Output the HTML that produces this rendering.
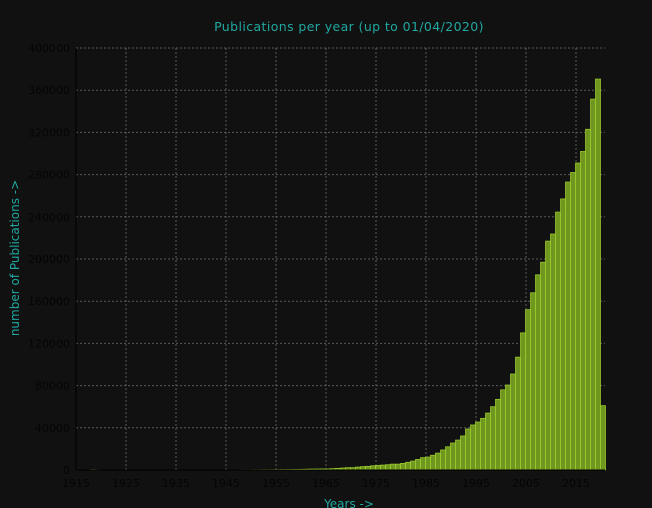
<!DOCTYPE html>
<html><head><meta charset="utf-8"><style>
html,body{margin:0;padding:0;background:#111;}
svg{display:block;font-family:"DejaVu Sans","Liberation Sans",sans-serif;}
</style></head><body>
<svg id="chart" width="652" height="508">
<rect width="652" height="508" fill="#111"/>
<text x="349" y="31" text-anchor="middle" fill="#20a8a0" font-size="12.5" letter-spacing="0.4">Publications per year (up to 01/04/2020)</text>
<text transform="translate(19,258) rotate(-90)" text-anchor="middle" fill="#20a8a0" font-size="12">number of Publications -&gt;</text>
<text x="349" y="508" text-anchor="middle" fill="#20a8a0" font-size="12">Years -&gt;</text>
<g id="grid"></g><g id="bars"></g><g id="axes"></g>
</svg>
<script>
const years = [];
for (let y = 1918; y <= 2020; y++) years.push(y);
const early = [300,200,100,0,0,0,0,0,0,0,0,0,0,0,0,0,0,0,100,100,100,100,100,100,100,100,100,150,150,150,200,200,250,250,300,300,350,400,450,500,550,600,700,800,900,950,1000];
const late = [1000,1300,1600,1900,2200,2200,2800,3200,3500,4000,4400,4700,5000,5600,5600,6300,7300,8500,10000,11700,12300,14000,16000,19000,22000,25600,28400,32300,38900,42700,45500,49000,54000,60000,67000,76000,80600,91000,107000,130000,152000,168000,185000,197000,217000,223700,244500,257000,273000,282000,291000,302000,323000,351600,370600,61000];
const values = early.concat(late);
const yTicks = [0,40000,80000,120000,160000,200000,240000,280000,320000,360000,400000];
const xTicks = [1915,1925,1935,1945,1955,1965,1975,1985,1995,2005,2015];
const NS = "http://www.w3.org/2000/svg";
const X0 = 76, PX = 5, Y0 = 470, YTOP = 48, XR = 605;
function xs(y){ return X0 + (y - 1915) * PX; }
function ys(v){ return Y0 - v / 400000 * (Y0 - YTOP); }
function mk(tag, attrs, parent){ const e = document.createElementNS(NS, tag); for (const k in attrs) e.setAttribute(k, attrs[k]); parent.appendChild(e); return e; }
const grid = document.getElementById('grid'), bars = document.getElementById('bars'), axes = document.getElementById('axes');
yTicks.forEach(t => {
  const l = mk('line', {x1:X0, x2:XR, y1:ys(t), y2:ys(t), stroke:'#5a5a5a', 'stroke-dasharray':'2,2', 'stroke-width':1}, grid);
  
  
  const tx = mk('text', {x:X0-6, y:ys(t)+4, 'text-anchor':'end', fill:'#050505', 'font-size':11}, axes);
  tx.textContent = t;
  
  
});
xTicks.forEach(t => {
  const l = mk('line', {x1:xs(t), x2:xs(t), y1:YTOP, y2:Y0, stroke:'#5a5a5a', 'stroke-dasharray':'2,2', 'stroke-width':1}, grid);
  
  
  const tx = mk('text', {x:xs(t), y:Y0+17, 'text-anchor':'middle', fill:'#050505', 'font-size':11}, axes);
  tx.textContent = t;
  
  
});
years.forEach((yr, i) => {
  const v = values[i] || 0;
  const top = ys(v);
  const r = mk('rect', {x:xs(yr)-0.5, y:top, width:PX, height:Math.max(Y0 - top, 0.01), fill:'#6f961f', stroke:'#a0d030', 'stroke-width':0.7}, bars);
  
  
});
const ax = mk('line', {x1:X0, x2:XR, y1:Y0, y2:Y0, stroke:'#000', 'stroke-width':1}, axes);


const ay = mk('line', {x1:X0, x2:X0, y1:YTOP, y2:Y0, stroke:'#000', 'stroke-width':1}, axes);


</script>
</body></html>
